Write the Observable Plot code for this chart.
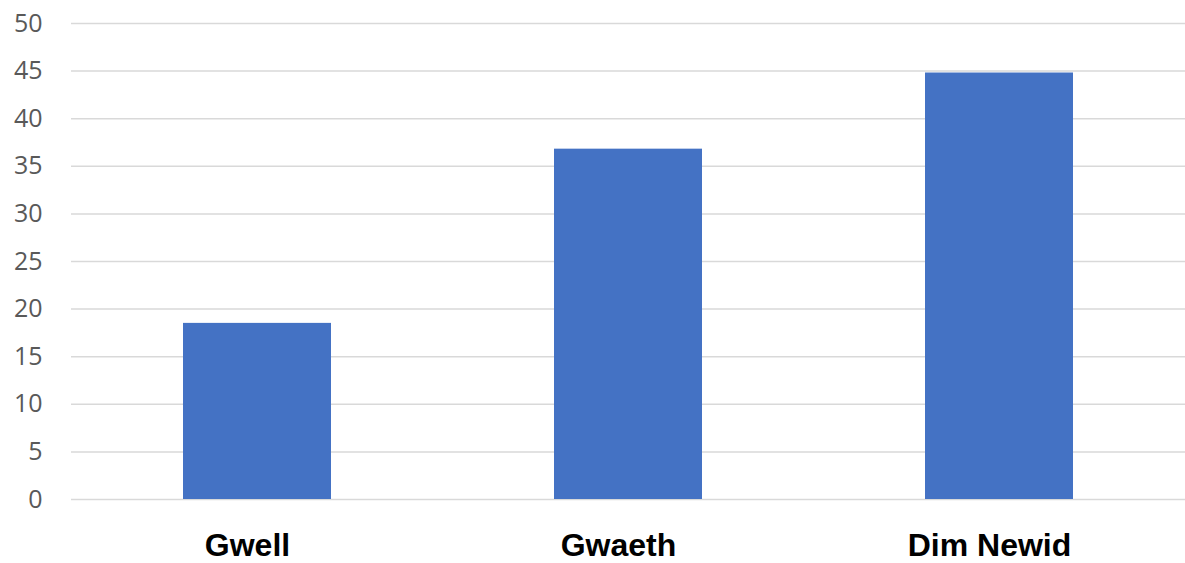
<!DOCTYPE html>
<html>
<head>
<meta charset="utf-8">
<script src="https://cdn.jsdelivr.net/npm/d3@7"></script>
<script src="https://cdn.jsdelivr.net/npm/@observablehq/plot@0.6"></script>
<style>
  html, body { margin: 0; padding: 0; background: #fff; }
  #chart svg { display: block; }
</style>
</head>
<body>
<div id="chart"></div>
<script>
const categories = ["Gwell", "Gwaeth", "Dim Newid"];
const values = [18.5, 36.8, 44.8];
const yTicks = [0, 5, 10, 15, 20, 25, 30, 35, 40, 45, 50];

const data = categories.map((c, i) => ({category: c, value: values[i]}));

const chart = Plot.plot({
  width: 1185,
  height: 563,
  marginLeft: 71,
  marginRight: 0,
  marginTop: 23,
  marginBottom: 64,
  style: {background: "#fff", overflow: "visible"},
  x: {domain: categories, paddingInner: 0.6, paddingOuter: 0.3, label: null},
  y: {domain: [0, 50], label: null},
  marks: [
    Plot.gridY(yTicks, {stroke: "#d9d9d9", strokeOpacity: 1, strokeWidth: 1.5}),
    Plot.barY(data, {x: "category", y: "value", fill: "#4472c4"}),
    Plot.axisY(yTicks, {
      tickSize: 0, tickPadding: 29, label: null,
      fontSize: 25, fill: "#595959",
      fontFamily: "Open Sans"
    }),
    Plot.axisX({
      tickSize: 0, tickPadding: 34, label: null, dx: -10,
      fontSize: 32, fontWeight: "bold", fill: "#000",
      fontFamily: "Liberation Sans, Arial, sans-serif"
    })
  ]
});
document.getElementById("chart").appendChild(chart);
</script>
</body>
</html>
